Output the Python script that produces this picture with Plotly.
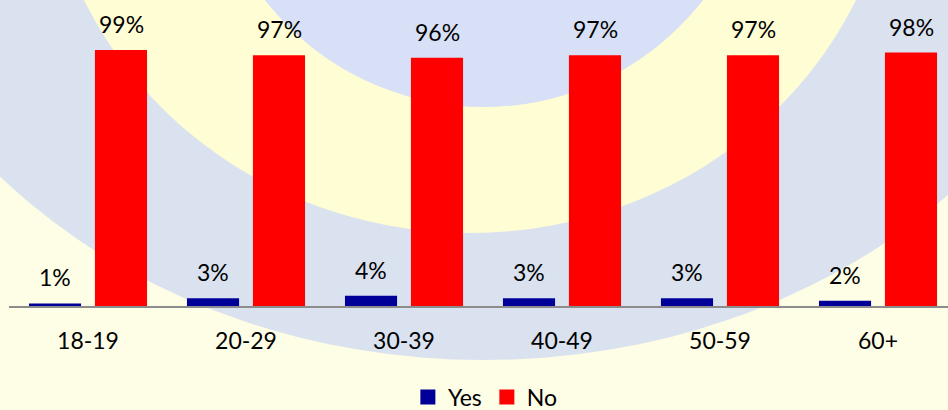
import plotly.graph_objects as go

categories = ["18-19", "20-29", "30-39", "40-49", "50-59", "60+"]
yes_values = [1, 3, 4, 3, 3, 2]
no_values = [99, 97, 96, 97, 97, 98]
series_names = ["Yes", "No"]

YES_COLOR = "#000099"
NO_COLOR = "#FF0000"
FONT = "Lato"
FS = 23

W, H = 948, 410
ML, MR, MT, MB = 9, 0, 0, 104
PW, PH = W - ML - MR, H - MT - MB


def px_ellipse(cx, cy, a, b, color):
    return dict(
        type="circle", xref="paper", yref="paper", layer="below",
        x0=(cx - a - ML) / PW, x1=(cx + a - ML) / PW,
        y0=(PH + MT - (cy + b)) / PH, y1=(PH + MT - (cy - b)) / PH,
        fillcolor=color, line=dict(width=0),
    )


shapes = [
    px_ellipse(484, -171, 640, 531, "#DAE2F0"),
    px_ellipse(470, -171, 426, 404, "#FFFDD4"),
    px_ellipse(484, -171, 278, 278, "#D7E0F6"),
]

fig = go.Figure()
fig.add_trace(go.Bar(x=categories, y=yes_values, name=series_names[0], showlegend=False,
                     marker=dict(color=YES_COLOR, line=dict(width=0))))
fig.add_trace(go.Bar(x=categories, y=no_values, name=series_names[1], showlegend=False,
                     marker=dict(color=NO_COLOR, line=dict(width=0))))
# legend entries with larger square swatches
for name, color in zip(series_names, (YES_COLOR, NO_COLOR)):
    fig.add_trace(go.Scatter(x=[None], y=[None], mode="markers", name=name,
                             marker=dict(symbol="square", size=15, color=color,
                                         line=dict(width=0))))

annotations = []
for vals, shift in ((yes_values, -33), (no_values, 33)):
    for c, v in zip(categories, vals):
        annotations.append(dict(
            x=c, y=v, xref="x", yref="y", text=f"{v}%", showarrow=False,
            xshift=shift, yshift=26, yanchor="middle", xanchor="center",
            font=dict(family=FONT, size=FS, color="#000000"),
        ))

fig.update_layout(
    width=W, height=H,
    margin=dict(l=ML, r=MR, t=MT, b=MB, pad=0, autoexpand=False),
    paper_bgcolor="#FEFDE6",
    plot_bgcolor="rgba(0,0,0,0)",
    barmode="group",
    bargap=0.165,
    bargroupgap=0.21,
    shapes=shapes,
    annotations=annotations,
    font=dict(family=FONT, size=FS, color="#000000"),
    showlegend=True,
    legend=dict(orientation="h", xref="container", yref="container",
                x=0.512, y=(H - 397) / H, xanchor="center", yanchor="middle",
                bgcolor="rgba(0,0,0,0)", font=dict(family=FONT, size=FS, color="#000000"),
                itemsizing="trace", traceorder="normal", itemwidth=30,
                tracegroupgap=0),
    xaxis=dict(range=[-0.5, -0.5 + PW / 158.0], showgrid=False, zeroline=False,
               showline=True, linecolor="#8C8C8C", linewidth=1.5,
               ticks="", tickfont=dict(family=FONT, size=FS, color="#000000"),
               ticklabelstandoff=14, fixedrange=True, automargin=False),
    yaxis=dict(range=[0, PH / 2.586], showgrid=False, zeroline=False, showline=False,
               showticklabels=False, ticks="", fixedrange=True, automargin=False),
)

fig.write_html("out.html")
